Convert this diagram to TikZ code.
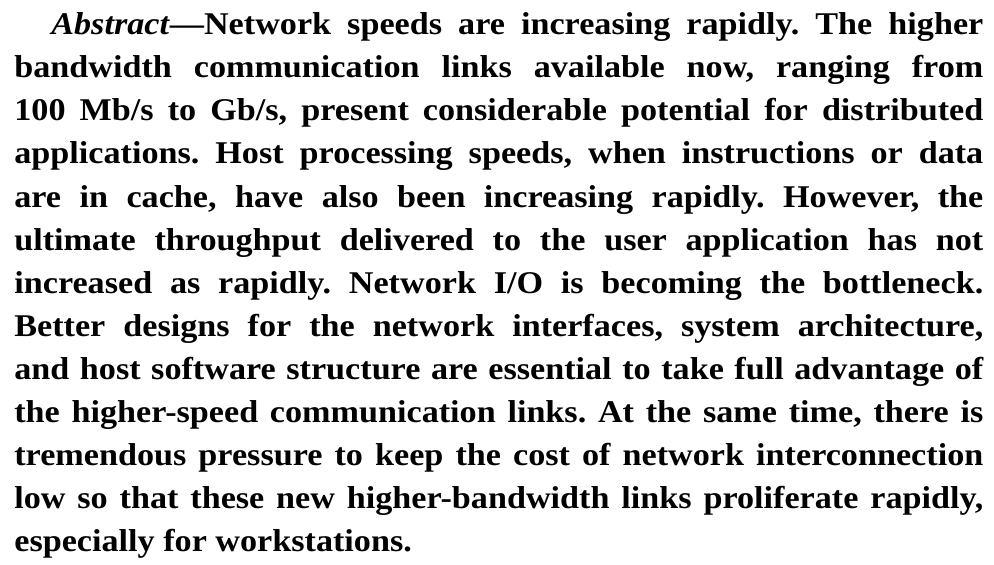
\documentclass[tikz,border=0pt]{standalone}
\usepackage{fontspec}
\setmainfont{Liberation Serif}[FakeStretch=1.08]
\usepackage{tikz}

\begin{document}
\begin{tikzpicture}[
  abstract/.style={inner sep=0pt, anchor=north west, align=justify,
    text width=19.38cm,
    font={\fontsize{18}{24.5}\selectfont\bfseries\frenchspacing\hyphenpenalty=10000\exhyphenpenalty=10000\tolerance=10000}}
]
  \useasboundingbox (0,0) rectangle (19.88,-11.28);
  \node[abstract] (abstr) at (0.28,-0.25) {\hspace*{0.74cm}\textit{Abstract}—Network speeds are increasing rapidly. The higher\linebreak
bandwidth communication links available now, ranging from\linebreak
100 Mb/s to Gb/s, present considerable potential for distributed\linebreak
applications. Host processing speeds, when instructions or data\linebreak
are in cache, have also been increasing rapidly. However, the\linebreak
ultimate throughput delivered to the user application has not\linebreak
increased as rapidly. Network I/O is becoming the bottleneck.\linebreak
Better designs for the network interfaces, system architecture,\linebreak
and host software structure are essential to take full advantage of\linebreak
the higher-speed communication links. At the same time, there is\linebreak
tremendous pressure to keep the cost of network interconnection\linebreak
low so that these new higher-bandwidth links proliferate rapidly,\linebreak
especially for workstations.};
\end{tikzpicture}
\end{document}
